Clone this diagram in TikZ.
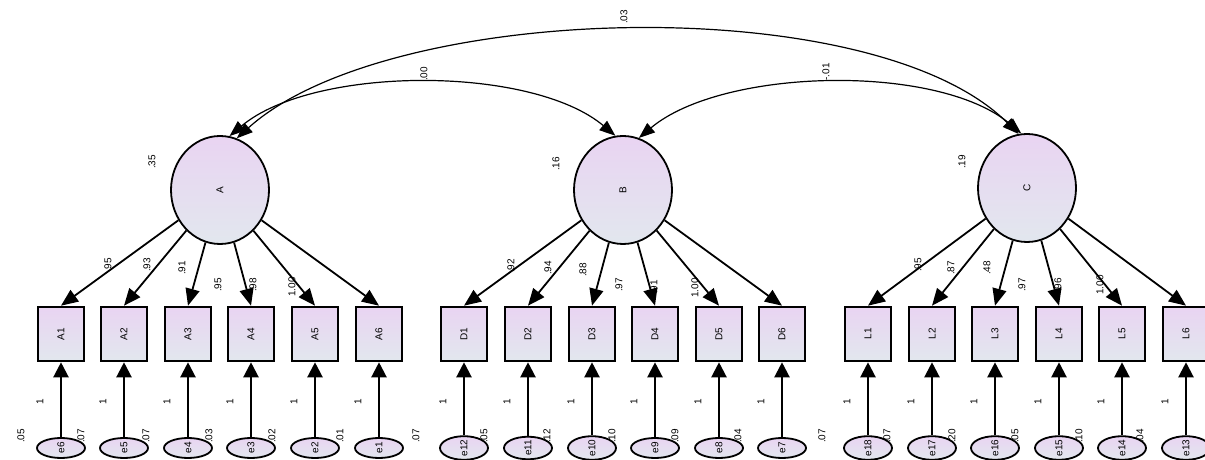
\documentclass[tikz,border=0pt]{standalone}
\usepackage{fontspec}
\setmainfont{Liberation Sans}
\usepackage{graphicx}
\usetikzlibrary{arrows.meta, shapes.geometric, positioning}
\definecolor{lavtop}{HTML}{E9D4F2}
\definecolor{lavbot}{HTML}{E2E7EE}
\newcommand{\vt}[1]{\rotatebox{90}{#1}}
\tikzset{
    latent/.style={draw, ellipse, line width=1.8pt, minimum width=98pt, minimum height=108pt,
        inner sep=0pt, top color=lavtop, bottom color=lavbot},
    obsbox/.style={draw, rectangle, line width=2.6pt, minimum width=46pt, minimum height=54pt,
        inner sep=0pt, top color=lavtop, bottom color=lavbot},
    errnode/.style={draw, ellipse, line width=1.8pt, minimum width=48pt, minimum height=20pt,
        inner sep=0pt, top color=lavtop, bottom color=lavbot},
    loading/.style={-{Triangle[length=17pt,width=14pt]}, line width=1.8pt},
    errpath/.style={-{Triangle[length=15pt,width=15pt]}, line width=2.2pt},
    covpath/.style={{Triangle[length=16pt,width=12pt]}-{Triangle[length=16pt,width=12pt]}, line width=1.2pt},
    est/.style={inner sep=0pt}
}

\begin{document}
\begin{tikzpicture}[x=1pt, y=1pt]
    \def \by {126}
    \def \ey {12}
    \tikzstyle{every node}=[font=\fontsize{10}{12}\selectfont];
    \useasboundingbox (0,0) rectangle (1205,460);
    % latent variables
    \node[latent] (A) at (220,270) {\vt{A}};
    \node[latent] (B) at (623,270) {\vt{B}};
    \node[latent] (C) at (1027,272) {\vt{C}};
    % indicators
    \node[obsbox] (A1) at (61,\by) {\vt{A1}};
    \node[obsbox] (A2) at (124,\by) {\vt{A2}};
    \node[obsbox] (A3) at (188,\by) {\vt{A3}};
    \node[obsbox] (A4) at (251,\by) {\vt{A4}};
    \node[obsbox] (A5) at (315,\by) {\vt{A5}};
    \node[obsbox] (A6) at (379,\by) {\vt{A6}};
    \node[obsbox] (D1) at (464,\by) {\vt{D1}};
    \node[obsbox] (D2) at (528,\by) {\vt{D2}};
    \node[obsbox] (D3) at (592,\by) {\vt{D3}};
    \node[obsbox] (D4) at (655,\by) {\vt{D4}};
    \node[obsbox] (D5) at (719,\by) {\vt{D5}};
    \node[obsbox] (D6) at (782,\by) {\vt{D6}};
    \node[obsbox] (L1) at (868,\by) {\vt{L1}};
    \node[obsbox] (L2) at (932,\by) {\vt{L2}};
    \node[obsbox] (L3) at (995,\by) {\vt{L3}};
    \node[obsbox] (L4) at (1059,\by) {\vt{L4}};
    \node[obsbox] (L5) at (1122,\by) {\vt{L5}};
    \node[obsbox] (L6) at (1186,\by) {\vt{L6}};
    % errors
    \node[errnode] (e6) at (61,\ey) {\vt{e6}};
    \node[errnode] (e5) at (124,\ey) {\vt{e5}};
    \node[errnode] (e4) at (188,\ey) {\vt{e4}};
    \node[errnode] (e3) at (251,\ey) {\vt{e3}};
    \node[errnode] (e2) at (315,\ey) {\vt{e2}};
    \node[errnode] (e1) at (379,\ey) {\vt{e1}};
    \node[errnode] (e12) at (464,\ey) {\vt{e12}};
    \node[errnode] (e11) at (528,\ey) {\vt{e11}};
    \node[errnode] (e10) at (592,\ey) {\vt{e10}};
    \node[errnode] (e9) at (655,\ey) {\vt{e9}};
    \node[errnode] (e8) at (719,\ey) {\vt{e8}};
    \node[errnode] (e7) at (782,\ey) {\vt{e7}};
    \node[errnode] (e18) at (868,\ey) {\vt{e18}};
    \node[errnode] (e17) at (932,\ey) {\vt{e17}};
    \node[errnode] (e16) at (995,\ey) {\vt{e16}};
    \node[errnode] (e15) at (1059,\ey) {\vt{e15}};
    \node[errnode] (e14) at (1122,\ey) {\vt{e14}};
    \node[errnode] (e13) at (1186,\ey) {\vt{e13}};
    % loadings
    \draw[loading] (A) -- (A1.north);
    \draw[loading] (A) -- (A2.north);
    \draw[loading] (A) -- (A3.north);
    \draw[loading] (A) -- (A4.north);
    \draw[loading] (A) -- (A5.north);
    \draw[loading] (A) -- (A6.north);
    \draw[loading] (B) -- (D1.north);
    \draw[loading] (B) -- (D2.north);
    \draw[loading] (B) -- (D3.north);
    \draw[loading] (B) -- (D4.north);
    \draw[loading] (B) -- (D5.north);
    \draw[loading] (B) -- (D6.north);
    \draw[loading] (C) -- (L1.north);
    \draw[loading] (C) -- (L2.north);
    \draw[loading] (C) -- (L3.north);
    \draw[loading] (C) -- (L4.north);
    \draw[loading] (C) -- (L5.north);
    \draw[loading] (C) -- (L6.north);
    % error paths
    \draw[errpath] (e6) -- (A1);
    \draw[errpath] (e5) -- (A2);
    \draw[errpath] (e4) -- (A3);
    \draw[errpath] (e3) -- (A4);
    \draw[errpath] (e2) -- (A5);
    \draw[errpath] (e1) -- (A6);
    \draw[errpath] (e12) -- (D1);
    \draw[errpath] (e11) -- (D2);
    \draw[errpath] (e10) -- (D3);
    \draw[errpath] (e9) -- (D4);
    \draw[errpath] (e8) -- (D5);
    \draw[errpath] (e7) -- (D6);
    \draw[errpath] (e18) -- (L1);
    \draw[errpath] (e17) -- (L2);
    \draw[errpath] (e16) -- (L3);
    \draw[errpath] (e15) -- (L4);
    \draw[errpath] (e14) -- (L5);
    \draw[errpath] (e13) -- (L6);
    % covariances
    \draw[covpath] (A.80) to[out=40, in=140, looseness=0.73] (B.98);
    \draw[covpath] (A.72) to[out=42, in=135, looseness=0.67] (C.99);
    \draw[covpath] (B.73) to[out=40, in=140, looseness=0.73] (C.96);
    \node[est] at (424,386) {\vt{.00}};
    \node[est] at (624,443) {\vt{.03}};
    \node[est] at (826,388) {\vt{-.01}};
    % variances
    \node[est] at (152,298) {\vt{.35}};
    \node[est] at (556,296) {\vt{.16}};
    \node[est] at (962,298) {\vt{.19}};
    % loading estimates
    \node[est] at (108,195) {\vt{.95}};
    \node[est] at (147,195) {\vt{.93}};
    \node[est] at (182,192) {\vt{.91}};
    \node[est] at (218,175) {\vt{.95}};
    \node[est] at (253,175) {\vt{.98}};
    \node[est] at (292,173) {\vt{1.00}};
    \node[est] at (511,194) {\vt{.92}};
    \node[est] at (548,192) {\vt{.94}};
    \node[est] at (583,190) {\vt{.88}};
    \node[est] at (619,175) {\vt{.97}};
    \node[est] at (654,173) {\vt{.91}};
    \node[est] at (695,172) {\vt{1.00}};
    \node[est] at (918,195) {\vt{.95}};
    \node[est] at (951,192) {\vt{.87}};
    \node[est] at (987,192) {\vt{.48}};
    \node[est] at (1022,175) {\vt{.97}};
    \node[est] at (1058,175) {\vt{.96}};
    \node[est] at (1100,175) {\vt{1.00}};
    % fixed paths
    \node[est] at (40,58) {\vt{1}};
    \node[est] at (103,58) {\vt{1}};
    \node[est] at (167,58) {\vt{1}};
    \node[est] at (230,58) {\vt{1}};
    \node[est] at (294,58) {\vt{1}};
    \node[est] at (358,58) {\vt{1}};
    \node[est] at (443,58) {\vt{1}};
    \node[est] at (507,58) {\vt{1}};
    \node[est] at (571,58) {\vt{1}};
    \node[est] at (634,58) {\vt{1}};
    \node[est] at (698,58) {\vt{1}};
    \node[est] at (761,58) {\vt{1}};
    \node[est] at (847,58) {\vt{1}};
    \node[est] at (911,58) {\vt{1}};
    \node[est] at (974,58) {\vt{1}};
    \node[est] at (1038,58) {\vt{1}};
    \node[est] at (1101,58) {\vt{1}};
    \node[est] at (1165,58) {\vt{1}};
    % error variances
    \node[est] at (21,24) {\vt{.05}};
    \node[est] at (81,24) {\vt{.07}};
    \node[est] at (146,24) {\vt{.07}};
    \node[est] at (209,24) {\vt{.03}};
    \node[est] at (272,24) {\vt{.02}};
    \node[est] at (340,24) {\vt{.01}};
    \node[est] at (416,24) {\vt{.07}};
    \node[est] at (484,24) {\vt{.05}};
    \node[est] at (547,24) {\vt{.12}};
    \node[est] at (612,24) {\vt{.10}};
    \node[est] at (675,24) {\vt{.09}};
    \node[est] at (738,24) {\vt{.04}};
    \node[est] at (822,24) {\vt{.07}};
    \node[est] at (887,24) {\vt{.07}};
    \node[est] at (952,24) {\vt{.20}};
    \node[est] at (1015,24) {\vt{.05}};
    \node[est] at (1079,24) {\vt{.10}};
    \node[est] at (1140,24) {\vt{.04}};
\end{tikzpicture}
\end{document}
